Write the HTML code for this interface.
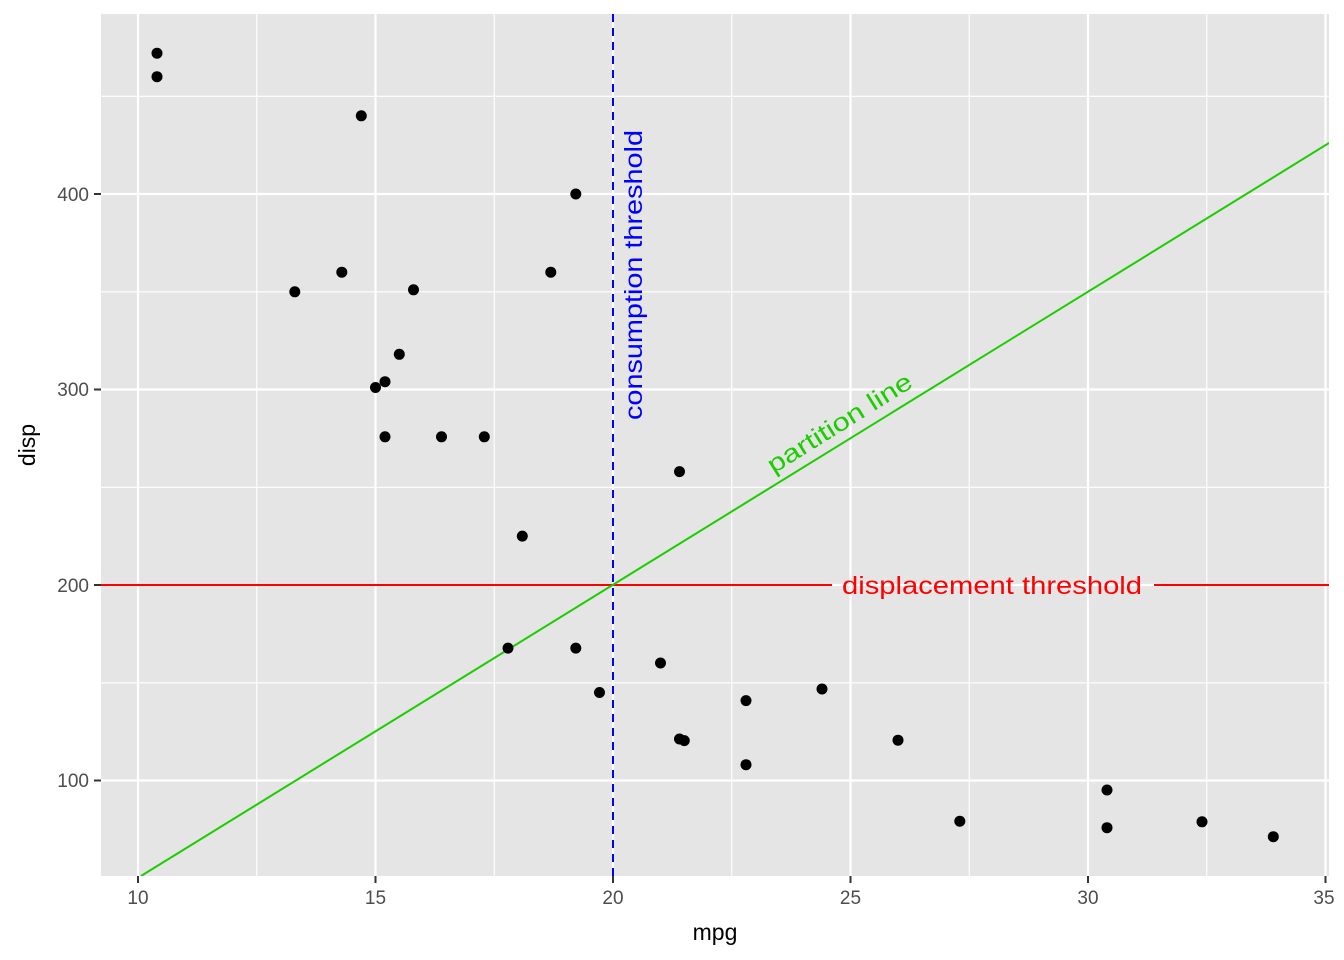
<!DOCTYPE html>
<html><head><meta charset="utf-8"><style>body{margin:0;background:#fff}svg{display:block}text{font-family:"Liberation Sans",Arial,sans-serif}</style></head><body>
<svg width="1344" height="960" viewBox="0 0 1344 960">
<defs><clipPath id="p"><rect x="101" y="14" width="1228" height="862"/></clipPath></defs>
<rect x="101" y="14" width="1228" height="862" fill="#e5e5e5"/>
<g stroke="#fff" stroke-width="1.1">
<line x1="256.75" x2="256.75" y1="14" y2="876"/><line x1="494.25" x2="494.25" y1="14" y2="876"/><line x1="731.75" x2="731.75" y1="14" y2="876"/><line x1="969.25" x2="969.25" y1="14" y2="876"/><line x1="1206.75" x2="1206.75" y1="14" y2="876"/>
<line x1="101" x2="1329" y1="96.3" y2="96.3"/><line x1="101" x2="1329" y1="291.8" y2="291.8"/><line x1="101" x2="1329" y1="487.3" y2="487.3"/><line x1="101" x2="1329" y1="682.8" y2="682.8"/>
</g>
<g stroke="#fff" stroke-width="2.2">
<line x1="138" x2="138" y1="14" y2="876"/><line x1="375.5" x2="375.5" y1="14" y2="876"/><line x1="613" x2="613" y1="14" y2="876"/><line x1="850.5" x2="850.5" y1="14" y2="876"/><line x1="1088" x2="1088" y1="14" y2="876"/><line x1="1325.5" x2="1325.5" y1="14" y2="876"/>
<line x1="101" x2="1329" y1="194" y2="194"/><line x1="101" x2="1329" y1="389.5" y2="389.5"/><line x1="101" x2="1329" y1="585" y2="585"/><line x1="101" x2="1329" y1="780.5" y2="780.5"/>
</g>
<g clip-path="url(#p)">
<line x1="101" y1="585" x2="832" y2="585" stroke="#ff0000" stroke-width="2"/>
<line x1="1154" y1="585" x2="1329" y2="585" stroke="#ff0000" stroke-width="2"/>
<line x1="613" y1="14" x2="613" y2="876" stroke="#0000ff" stroke-width="2" stroke-dasharray="8,6"/>
<line x1="141" y1="876" x2="1329" y2="143" stroke="#1ccd00" stroke-width="2"/>
</g>
<text x="992" y="594" font-size="25" fill="#ff0000" text-anchor="middle" textLength="300" lengthAdjust="spacingAndGlyphs">displacement threshold</text>
<text transform="translate(642,275) rotate(-90)" font-size="25" fill="#0000ff" text-anchor="middle" textLength="290" lengthAdjust="spacingAndGlyphs">consumption threshold</text>
<text transform="translate(844,430) rotate(-32)" font-size="25" fill="#1ccd00" text-anchor="middle" textLength="166" lengthAdjust="spacingAndGlyphs">partition line</text>
<g fill="#000">
<circle cx="660.5" cy="663" r="5.5"/><circle cx="746" cy="764.7" r="5.5"/><circle cx="679.5" cy="471.6" r="5.5"/><circle cx="550.8" cy="272.2" r="5.5"/><circle cx="522.3" cy="536.1" r="5.5"/><circle cx="341.8" cy="272.2" r="5.5"/><circle cx="822" cy="689" r="5.5"/><circle cx="746" cy="700.6" r="5.5"/><circle cx="575.8" cy="648.1" r="5.5"/><circle cx="508" cy="648.1" r="5.5"/><circle cx="441.5" cy="436.8" r="5.5"/><circle cx="484.3" cy="436.8" r="5.5"/><circle cx="385" cy="436.8" r="5.5"/><circle cx="157" cy="53.2" r="5.5"/><circle cx="157" cy="76.7" r="5.5"/><circle cx="361.3" cy="115.8" r="5.5"/><circle cx="1202" cy="821.8" r="5.5"/><circle cx="1107" cy="827.7" r="5.5"/><circle cx="1273.3" cy="836.7" r="5.5"/><circle cx="684.3" cy="740.6" r="5.5"/><circle cx="399.3" cy="354.3" r="5.5"/><circle cx="385" cy="381.7" r="5.5"/><circle cx="294.8" cy="291.8" r="5.5"/><circle cx="575.8" cy="194" r="5.5"/><circle cx="959.8" cy="821.2" r="5.5"/><circle cx="898" cy="740.2" r="5.5"/><circle cx="413.5" cy="289.8" r="5.5"/><circle cx="599.5" cy="692.5" r="5.5"/><circle cx="375.5" cy="387.5" r="5.5"/><circle cx="679.5" cy="739" r="5.5"/><circle cx="1107" cy="790" r="5.5"/>
</g>
<g stroke="#333" stroke-width="2">
<line x1="138" x2="138" y1="876" y2="883"/><line x1="375.5" x2="375.5" y1="876" y2="883"/><line x1="613" x2="613" y1="876" y2="883"/><line x1="850.5" x2="850.5" y1="876" y2="883"/><line x1="1088" x2="1088" y1="876" y2="883"/><line x1="1325.5" x2="1325.5" y1="876" y2="883"/>
<line x1="94" x2="101" y1="194" y2="194"/><line x1="94" x2="101" y1="389.5" y2="389.5"/><line x1="94" x2="101" y1="585" y2="585"/><line x1="94" x2="101" y1="780.5" y2="780.5"/>
</g>
<g font-size="19" fill="#4d4d4d" text-anchor="middle">
<text x="138" y="904">10</text><text x="375.5" y="904">15</text><text x="613" y="904">20</text><text x="850.5" y="904">25</text><text x="1088" y="904">30</text><text x="1324" y="904">35</text>
</g>
<g font-size="19" fill="#4d4d4d" text-anchor="end">
<text x="89" y="201">400</text><text x="89" y="396">300</text><text x="89" y="592">200</text><text x="89" y="787">100</text>
</g>
<text x="715" y="940" font-size="23" text-anchor="middle" fill="#000">mpg</text>
<text transform="translate(35,445) rotate(-90)" font-size="23" text-anchor="middle" fill="#000">disp</text>
</svg>
</body></html>
